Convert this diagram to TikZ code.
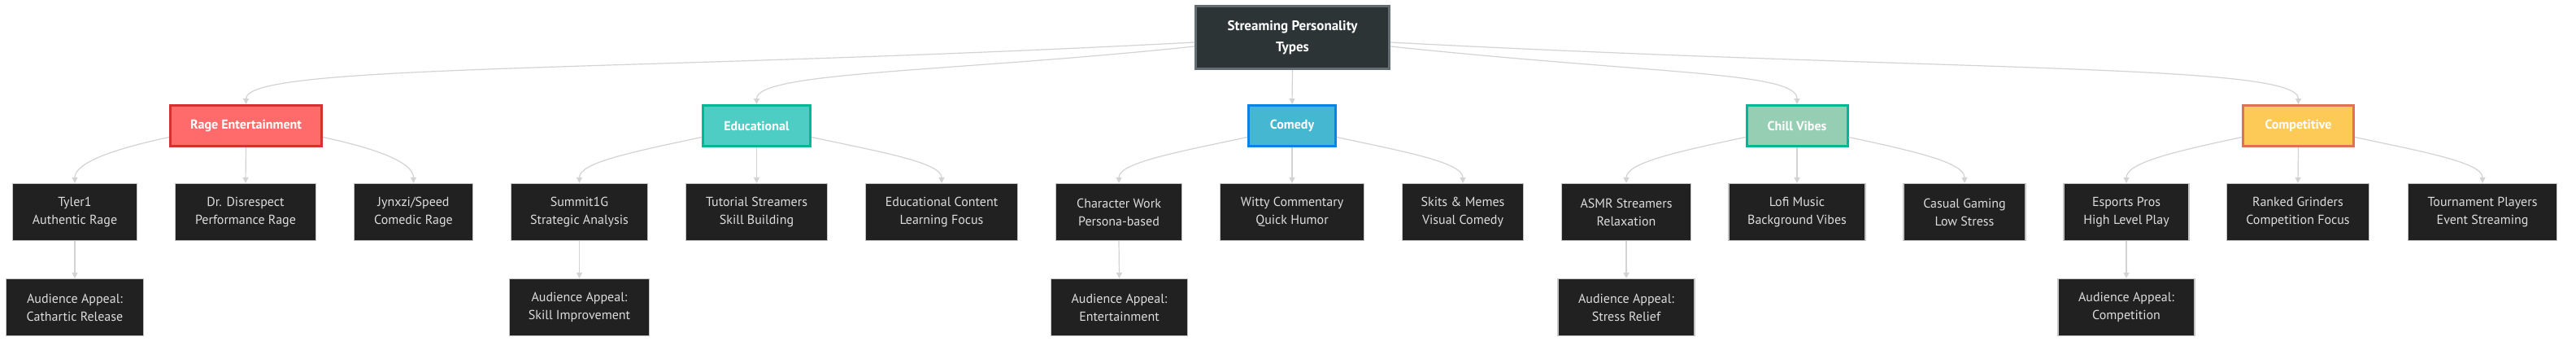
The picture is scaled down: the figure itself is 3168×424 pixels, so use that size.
\documentclass[tikz,border=0pt]{standalone}
\usepackage[dvipsnames]{xcolor}
\usepackage{fontspec}
\setmainfont{PT Sans}
\usepackage{tikz}
\usetikzlibrary{positioning,arrows.meta}
\definecolor{leaffill}{HTML}{212121}
\definecolor{leafline}{HTML}{C4C4C4}
\definecolor{leaftext}{HTML}{DDDDDD}
\definecolor{linkgray}{HTML}{D3D3D3}
\definecolor{rootfill}{HTML}{2D3436}
\definecolor{rootline}{HTML}{636E72}
\definecolor{ragefill}{HTML}{FF6B6B}
\definecolor{rageline}{HTML}{D63031}
\definecolor{edufill}{HTML}{4ECDC4}
\definecolor{greenline}{HTML}{00B894}
\definecolor{comedyfill}{HTML}{45B7D1}
\definecolor{comedyline}{HTML}{0984E3}
\definecolor{chillfill}{HTML}{96CEB4}
\definecolor{compfill}{HTML}{FECA57}
\definecolor{compline}{HTML}{E17055}
\tikzset{leaf/.style={draw=leafline,fill=leaffill,text=leaftext,line width=1.2pt,
           minimum height=70pt,align=center,font=\fontsize{16}{22}\selectfont},
         topic/.style={line width=3pt,minimum height=50pt,text=white,
           font=\bfseries\fontsize{16}{20}\selectfont},
         rootbox/.style={draw=rootline,fill=rootfill,line width=3pt,text=white,
           minimum width=238pt,minimum height=77pt,align=center,
           font=\bfseries\fontsize{17}{26}\selectfont},
         link/.style={draw=linkgray,line width=1.2pt,-{Triangle[length=7pt,width=7pt]}}}

\begin{document}
\begin{tikzpicture}[x=1pt,y=1pt]
  \path[fill=white,use as bounding box] (0,0) rectangle (3168,-424);

  \node[rootbox] (root) at (1589.5,-46) {Streaming Personality\\Types};

  \node[topic,draw=rageline,fill=ragefill,minimum width=186pt] (rage) at (302.5,-154.5) {Rage Entertainment};
  \node[topic,draw=greenline,fill=edufill,minimum width=132pt] (edu) at (930.5,-154.5) {Educational};
  \node[topic,draw=comedyline,fill=comedyfill,minimum width=107pt] (comedy) at (1589,-154.5) {Comedy};
  \node[topic,draw=greenline,fill=chillfill,minimum width=124pt] (chill) at (2210,-154.5) {Chill Vibes};
  \node[topic,draw=compline,fill=compfill,minimum width=136pt] (comp) at (2826.5,-154.5) {Competitive};

  \node[leaf,minimum width=153pt] (tyler) at (92,-260.5) {Tyler1\\Authentic Rage};
  \node[leaf,minimum width=173pt] (drdis) at (302,-260.5) {Dr. Disrespect\\Performance Rage};
  \node[leaf,minimum width=146pt] (jynxzi) at (508.5,-260.5) {Jynxzi/Speed\\Comedic Rage};
  \node[leaf,minimum width=168pt] (summit) at (712.5,-260.5) {Summit1G\\Strategic Analysis};
  \node[leaf,minimum width=174pt] (tutorial) at (930.5,-260.5) {Tutorial Streamers\\Skill Building};
  \node[leaf,minimum width=187pt] (educontent) at (1158,-260.5) {Educational Content\\Learning Focus};
  \node[leaf,minimum width=155pt] (character) at (1376,-260.5) {Character Work\\Persona-based};
  \node[leaf,minimum width=177pt] (witty) at (1589,-260.5) {Witty Commentary\\Quick Humor};
  \node[leaf,minimum width=149pt] (skits) at (1799,-260.5) {Skits \& Memes\\Visual Comedy};
  \node[leaf,minimum width=159pt] (asmr) at (2000,-260.5) {ASMR Streamers\\Relaxation};
  \node[leaf,minimum width=168pt] (lofi) at (2210,-260.5) {Lofi Music\\Background Vibes};
  \node[leaf,minimum width=150pt] (casual) at (2416,-260.5) {Casual Gaming\\Low Stress};
  \node[leaf,minimum width=154pt] (esports) at (2615,-260.5) {Esports Pros\\High Level Play};
  \node[leaf,minimum width=175pt] (ranked) at (2826,-260.5) {Ranked Grinders\\Competition Focus};
  \node[leaf,minimum width=183pt] (tournament) at (3053,-260.5) {Tournament Players\\Event Streaming};

  \node[leaf,minimum width=169pt] (appealrage) at (92,-377.5) {Audience Appeal:\\Cathartic Release};
  \node[leaf,minimum width=172pt] (appealedu) at (712.5,-377.5) {Audience Appeal:\\Skill Improvement};
  \node[leaf,minimum width=168pt] (appealcomedy) at (1376.5,-377.5) {Audience Appeal:\\Entertainment};
  \node[leaf,minimum width=168pt] (appealchill) at (2000,-377.5) {Audience Appeal:\\Stress Relief};
  \node[leaf,minimum width=168pt] (appealcomp) at (2615,-377.5) {Audience Appeal:\\Competition};

  \draw[link] ([yshift=-6pt]root.west) .. controls +(183:700pt) and +(90:50pt) .. (rage.north);
  \draw[link] ([yshift=-11pt]root.west) .. controls +(186:300pt) and +(90:40pt) .. (edu.north);
  \draw[link] (root.south) -- (comedy.north);
  \draw[link] ([yshift=-11pt]root.east) .. controls +(-6:330pt) and +(90:40pt) .. (chill.north);
  \draw[link] ([yshift=-6pt]root.east) .. controls +(-3:700pt) and +(90:50pt) .. (comp.north);

  \draw[link] ([yshift=-14pt]rage.west) .. controls +(192:70pt) and +(90:25pt) .. (tyler.north);
  \draw[link] (rage.south) -- (drdis.north);
  \draw[link] ([yshift=-14pt]rage.east) .. controls +(-12:70pt) and +(90:25pt) .. (jynxzi.north);
  \draw[link] ([yshift=-14pt]edu.west) .. controls +(192:90pt) and +(90:25pt) .. (summit.north);
  \draw[link] (edu.south) -- (tutorial.north);
  \draw[link] ([yshift=-14pt]edu.east) .. controls +(-12:90pt) and +(90:25pt) .. (educontent.north);
  \draw[link] ([yshift=-14pt]comedy.west) .. controls +(192:90pt) and +(90:25pt) .. (character.north);
  \draw[link] (comedy.south) -- (witty.north);
  \draw[link] ([yshift=-14pt]comedy.east) .. controls +(-12:90pt) and +(90:25pt) .. (skits.north);
  \draw[link] ([yshift=-14pt]chill.west) .. controls +(192:85pt) and +(90:25pt) .. (asmr.north);
  \draw[link] (chill.south) -- (lofi.north);
  \draw[link] ([yshift=-14pt]chill.east) .. controls +(-12:85pt) and +(90:25pt) .. (casual.north);
  \draw[link] ([yshift=-14pt]comp.west) .. controls +(192:85pt) and +(90:25pt) .. (esports.north);
  \draw[link] (comp.south) -- (ranked.north);
  \draw[link] ([yshift=-14pt]comp.east) .. controls +(-12:90pt) and +(90:25pt) .. (tournament.north);

  \draw[link] (tyler.south) -- (appealrage.north);
  \draw[link] (summit.south) -- (appealedu.north);
  \draw[link] (character.south) -- (appealcomedy.north);
  \draw[link] (asmr.south) -- (appealchill.north);
  \draw[link] (esports.south) -- (appealcomp.north);
\end{tikzpicture}
\end{document}
